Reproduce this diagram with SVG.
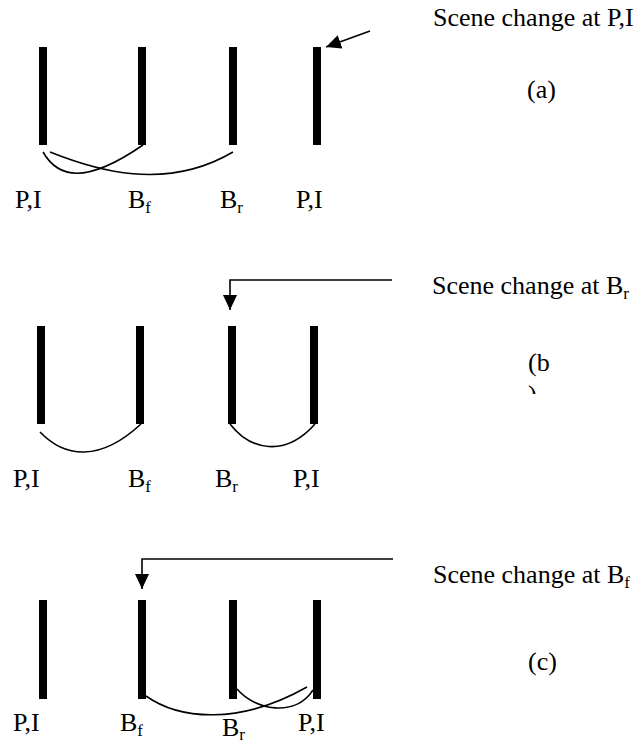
<svg xmlns="http://www.w3.org/2000/svg" width="644" height="744" viewBox="0 0 644 744">
<style>
text{font-family:"Liberation Serif","Times New Roman",serif;font-size:26px;fill:#000}
.sub{font-size:17px}
.bar{fill:#000}
.curve{fill:none;stroke:#000;stroke-width:1.6}
.arr{fill:none;stroke:#000;stroke-width:1.6}
</style>
<defs>
<marker id="ah" markerUnits="userSpaceOnUse" markerWidth="16" markerHeight="14" refX="15" refY="7" orient="auto">
<path d="M0,0 L15,7 L0,14 z" fill="#000"/>
</marker>
<clipPath id="clipb"><rect x="500" y="380" width="100" height="14"/></clipPath>
</defs>

<g id="panel-a">
<g id="a-bar1"><rect class="bar" x="39" y="47" width="8" height="98"/><text x="15" y="208">P,I</text></g>
<g id="a-bar2"><rect class="bar" x="138" y="47" width="8" height="98"/><text x="128" y="208">B<tspan class="sub" dy="5">f</tspan></text></g>
<g id="a-bar3"><rect class="bar" x="229" y="47" width="8" height="98"/><text x="220" y="208">B<tspan class="sub" dy="5">r</tspan></text></g>
<g id="a-bar4"><rect class="bar" x="313" y="47" width="8" height="98"/><text x="296" y="208">P,I</text></g>
<g id="a-label"><text x="433" y="26">Scene change at P,I</text><text x="527" y="98">(a)</text></g>
</g>

<g id="panel-b">
<g id="b-bar1"><rect class="bar" x="37" y="326" width="8" height="98"/><text x="13" y="487">P,I</text></g>
<g id="b-bar2"><rect class="bar" x="136" y="326" width="8" height="98"/><text x="128" y="487">B<tspan class="sub" dy="5">f</tspan></text></g>
<g id="b-bar3"><rect class="bar" x="228" y="326" width="8" height="98"/><text x="215" y="487">B<tspan class="sub" dy="5">r</tspan></text></g>
<g id="b-bar4"><rect class="bar" x="310" y="326" width="8" height="98"/><text x="293" y="487">P,I</text></g>
<g id="b-label"><text x="432" y="294">Scene change at B<tspan class="sub" dy="5">r</tspan></text><text x="528" y="371">(b</text><text x="528" y="403" clip-path="url(#clipb)">)</text></g>
</g>

<g id="panel-c">
<g id="c-bar1"><rect class="bar" x="39" y="600" width="8" height="99"/><text x="13" y="731">P,I</text></g>
<g id="c-bar2"><rect class="bar" x="138" y="600" width="8" height="99"/><text x="120" y="731">B<tspan class="sub" dy="5">f</tspan></text></g>
<g id="c-bar3"><rect class="bar" x="229" y="600" width="8" height="99"/><text x="222" y="736">B<tspan class="sub" dy="4">r</tspan></text></g>
<g id="c-bar4"><rect class="bar" x="313" y="600" width="8" height="99"/><text x="298" y="731">P,I</text></g>
<g id="c-label"><text x="433" y="583">Scene change at B<tspan class="sub" dy="5">f</tspan></text><text x="528" y="670">(c)</text></g>
</g>

<g id="connectors">
<path class="curve" d="M43,152 C58,178 85,185 143,145"/>
<path class="curve" d="M50,152 C95,170 165,192 233,152"/>
<path class="curve" d="M40,432 C65,458 100,462 141,424"/>
<path class="curve" d="M230,424 C250,450 285,458 315,424"/>
<path class="curve" d="M146,696 C180,720 240,725 307,687"/>
<path class="curve" d="M237,689 C255,710 295,718 313,690"/>
<path class="arr" d="M370,31 L326,47" marker-end="url(#ah)"/>
<path class="arr" d="M392,280 H230 V310" marker-end="url(#ah)"/>
<path class="arr" d="M393,559 H142 V589" marker-end="url(#ah)"/>
</g>
</svg>
